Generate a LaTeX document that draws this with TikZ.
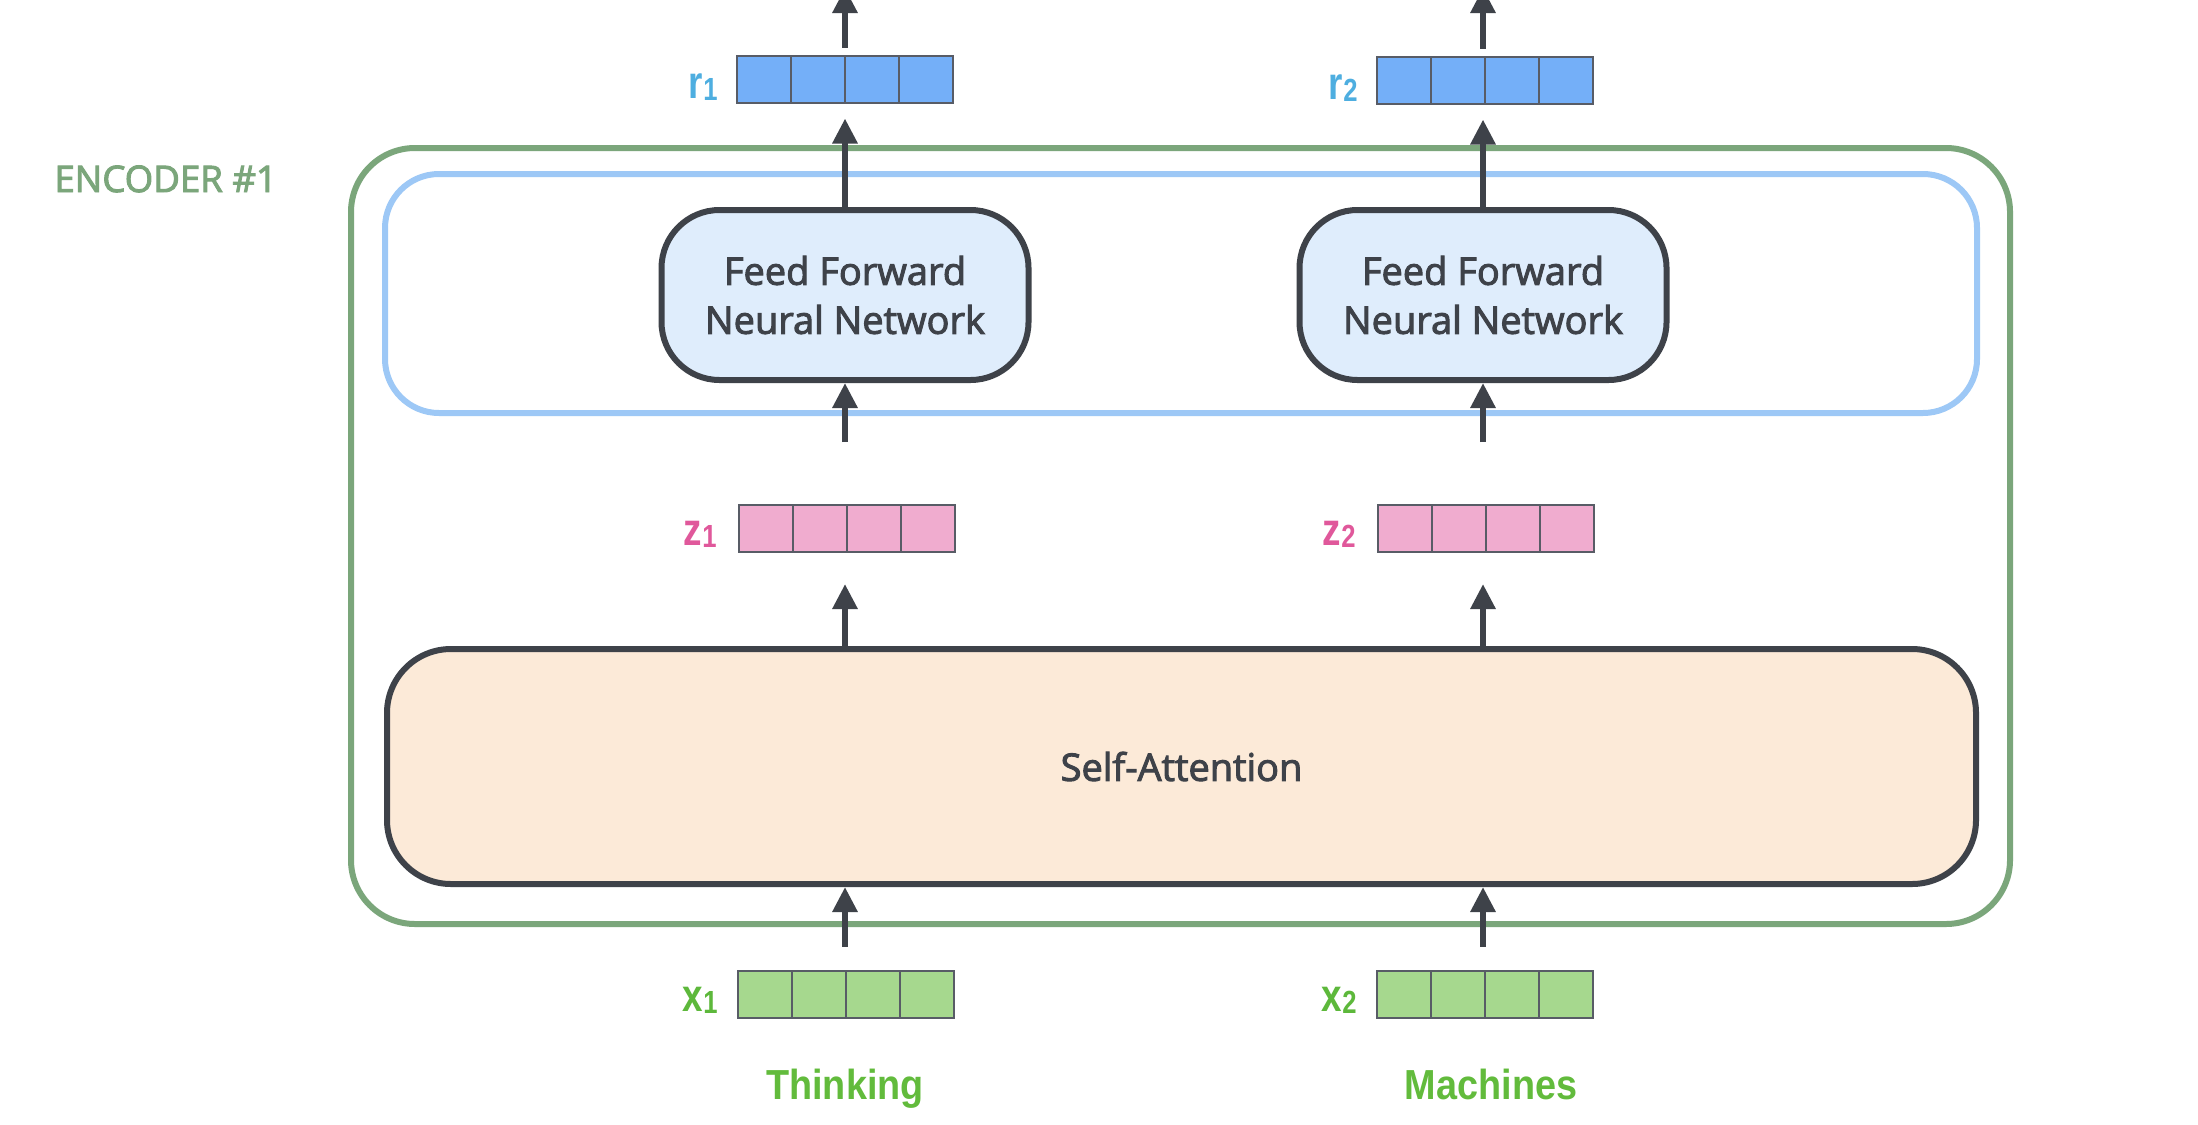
\documentclass[tikz,border=0pt]{standalone}
\usepackage{fontspec}
\usepackage{graphicx}
\setmainfont{Open Sans}[FakeBold=2.6]
\newfontfamily\lsans{Liberation Sans}
\usetikzlibrary{arrows.meta,calc}
\definecolor{dark}{HTML}{3E4249}
\definecolor{encgreen}{HTML}{7BA67B}
\definecolor{ffnblue}{HTML}{9DC8F6}
\definecolor{ffnfill}{HTML}{DFEDFC}
\definecolor{safill}{HTML}{FCEAD8}
\definecolor{rfill}{HTML}{74AFF8}
\definecolor{zfill}{HTML}{F0ACCF}
\definecolor{xfill}{HTML}{A6D88E}
\definecolor{rlab}{HTML}{4EAEE0}
\definecolor{zlab}{HTML}{E0589B}
\definecolor{xlab}{HTML}{5DB83B}
\definecolor{wordgreen}{HTML}{62BB3C}
\definecolor{cellgray}{HTML}{585C66}
\newcommand{\veclab}[2]{\scalebox{0.8}[1]{#1\kern0.5pt\raisebox{-1pt}{\fontsize{16}{16}\selectfont #2}}}
\begin{document}
\begin{tikzpicture}[x=0.5pt,y=-0.5pt,
  arr/.style={draw=dark, line width=3pt, -{Triangle[length=12.5pt,width=12pt]}},
  vec/.style={draw=cellgray, line width=1pt, minimum width=108pt, minimum height=23.5pt, inner sep=0pt,
    path picture={\foreach \i in {1,2,3}{\draw[cellgray,line width=1pt]
      ($(path picture bounding box.north west)!\i/4!(path picture bounding box.north east)$) --
      ($(path picture bounding box.south west)!\i/4!(path picture bounding box.south east)$);}}},
  lab/.style={font=\lsans\bfseries\fontsize{23}{23}\selectfont, inner sep=0pt, anchor=base east},
  ffn/.style={draw=dark, line width=3pt, fill=ffnfill, rounded corners=29pt, minimum width=183.5pt,
    minimum height=85pt, align=center, text=dark, font=\fontsize{19}{24.5}\selectfont},
  word/.style={font=\lsans\bfseries\fontsize{21}{21}\selectfont, text=wordgreen, inner sep=0pt, anchor=base}
]
\useasboundingbox (0,0) rectangle (2198,1124);
\clip (0,0) rectangle (2198,1124);
\fill[white] (0,0) rectangle (2198,1124);

% encoder frame
\node[draw=encgreen, line width=3pt, rounded corners=32pt, minimum width=829.5pt, minimum height=388pt] (enc) at (1180.5,536) {};
\node[anchor=base west, inner sep=0pt, text=encgreen, font=\fontsize{18.3}{18.3}\selectfont] (enclabel) at (54,192) {ENCODER \#1};

% feed-forward layer frame
\node[draw=ffnblue, line width=3pt, rounded corners=27pt, minimum width=796pt, minimum height=119.5pt] (ffl) at (1181,293.5) {};

% feed-forward networks
\node[ffn] (ffn1) at (845,295) {Feed Forward\\Neural Network};
\node[ffn] (ffn2) at (1483,295) {Feed Forward\\Neural Network};

% self-attention
\node[draw=dark, line width=3pt, fill=safill, rounded corners=32pt, minimum width=794.5pt, minimum height=117.5pt,
  text=dark, font=\fontsize{19}{19}\selectfont] (sa) at (1181.5,766.5) {Self-Attention};

% vectors
\node[vec, fill=rfill] (r1) at (845,79) {};
\node[vec, fill=rfill] (r2) at (1485,80) {};
\node[vec, fill=zfill] (z1) at (847,528.5) {};
\node[vec, fill=zfill] (z2) at (1486,528.5) {};
\node[vec, fill=xfill] (x1) at (846,994) {};
\node[vec, fill=xfill] (x2) at (1485,994) {};

% vector labels
\node[lab, text=rlab] (r1l) at ($(r1.south west)+(-18,-5)$) {\veclab{r}{1}};
\node[lab, text=rlab] (r2l) at ($(r2.south west)+(-18,-5)$) {\veclab{r}{2}};
\node[lab, text=zlab] (z1l) at ($(z1.south west)+(-21,-8)$) {\veclab{z}{1}};
\node[lab, text=zlab] (z2l) at ($(z2.south west)+(-21,-8)$) {\veclab{z}{2}};
\node[lab, text=xlab] (x1l) at ($(x1.south west)+(-19,-7)$) {\veclab{x}{1}};
\node[lab, text=xlab] (x2l) at ($(x2.south west)+(-19,-7)$) {\veclab{x}{2}};

% words
\node[word] (w1) at (845,1099) {\scalebox{0.9}[1]{Thinking}};
\node[word] (w2) at (1491,1099) {\scalebox{0.9}[1]{Machines}};

% free ends above the outputs
\coordinate (out1) at (845,-12);
\coordinate (out2) at (1483,-12);

% arrows, left column
\draw[arr] ([yshift=11.5pt]x1.north -| ffn1) -- (ffn1 |- sa.south);
\draw[arr] (ffn1 |- sa.north) -- ([yshift=-15.5pt]z1.south -| ffn1);
\draw[arr] ([yshift=31pt]z1.north -| ffn1) -- (ffn1.south);
\draw[arr] (ffn1.north) -- ([yshift=-7.5pt]r1.south -| ffn1);
\draw[arr] ([yshift=3.5pt]r1.north -| ffn1) -- (out1);

% arrows, right column
\draw[arr] ([yshift=11.5pt]x2.north -| ffn2) -- (ffn2 |- sa.south);
\draw[arr] (ffn2 |- sa.north) -- ([yshift=-15.5pt]z2.south -| ffn2);
\draw[arr] ([yshift=31pt]z2.north -| ffn2) -- (ffn2.south);
\draw[arr] (ffn2.north) -- ([yshift=-7.5pt]r2.south -| ffn2);
\draw[arr] ([yshift=3.5pt]r2.north -| ffn2) -- (out2);
\end{tikzpicture}
\end{document}
